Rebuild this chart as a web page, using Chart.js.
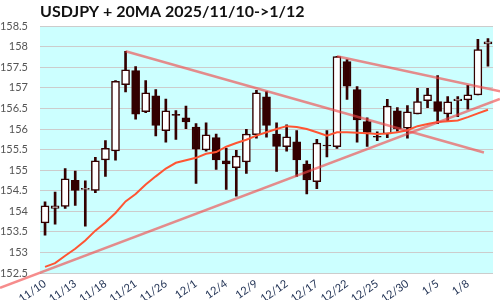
<!DOCTYPE html>
<html>
<head>
<meta charset="utf-8">
<script src="https://cdn.jsdelivr.net/npm/chart.js@4"></script>
<style>html, body { margin: 0; padding: 0; background: #fff; }</style>
</head>
<body>
<canvas id="canvas" width="500" height="300"></canvas>
<script>
const dates = ["11/10", "11/11", "11/12", "11/13", "11/14", "11/17", "11/18", "11/19", "11/20", "11/21",
    "11/24", "11/25", "11/26", "11/27", "11/28", "12/1", "12/2", "12/3", "12/4", "12/5",
    "12/8", "12/9", "12/10", "12/11", "12/12", "12/15", "12/16", "12/17", "12/18", "12/19",
    "12/22", "12/23", "12/24", "12/25", "12/26", "12/29", "12/30", "12/31", "1/2", "1/5",
    "1/6", "1/7", "1/8", "1/9", "1/12"];

const opens = [153.72, 154.07, 154.12, 154.75, 154.53, 154.51, 155.25, 155.47, 157.08, 157.42,
    156.42, 156.81, 155.96, 156.36, 156.27, 156.05, 155.49, 155.79, 155.23, 155.06,
    155.20, 155.86, 156.78, 155.88, 155.57, 155.69, 155.15, 154.72, 155.61, 155.57,
    157.64, 156.96, 156.18, 155.82, 155.88, 156.44, 156.02, 156.37, 156.69, 156.67,
    156.37, 156.69, 156.71, 156.83, 158.07];
const highs = [154.23, 154.47, 155.04, 154.98, 154.74, 155.31, 155.72, 157.18, 157.89, 157.52,
    157.18, 156.96, 156.73, 156.45, 156.56, 156.13, 156.15, 155.88, 155.53, 155.48,
    155.99, 156.94, 156.91, 156.15, 156.10, 155.96, 155.23, 155.75, 155.96, 157.77,
    157.69, 157.03, 156.27, 155.93, 156.72, 156.52, 156.57, 156.99, 156.99, 157.30,
    156.79, 156.79, 157.06, 158.18, 158.20];
const lows = [153.42, 153.69, 154.07, 154.14, 153.64, 154.45, 154.85, 155.24, 156.90, 156.24,
    156.40, 155.83, 155.68, 155.75, 156.01, 154.68, 155.46, 155.02, 154.53, 154.37,
    154.92, 155.78, 155.80, 154.97, 155.46, 154.85, 154.42, 154.55, 155.32, 155.53,
    156.72, 155.68, 155.58, 155.72, 155.79, 155.95, 155.78, 156.37, 156.52, 156.13,
    156.19, 156.30, 156.48, 156.83, 157.53];
const closes = [154.13, 154.13, 154.79, 154.51, 154.56, 155.23, 155.53, 157.16, 157.44, 156.36,
    156.88, 156.09, 156.44, 156.33, 156.17, 155.51, 155.86, 155.25, 155.15, 155.34,
    155.88, 156.88, 156.09, 155.58, 155.81, 155.25, 154.76, 155.66, 155.59, 157.76,
    157.04, 156.22, 155.92, 155.80, 156.56, 156.00, 156.42, 156.67, 156.83, 156.43,
    156.66, 156.73, 156.83, 157.93, 158.12];

const ma20 = [152.65, 152.74, 152.92, 153.09, 153.29, 153.53, 153.73, 153.96, 154.24, 154.42,
    154.65, 154.85, 155.04, 155.18, 155.24, 155.30, 155.40, 155.44, 155.57, 155.66,
    155.74, 155.84, 155.92, 156.00, 156.07, 156.05, 156.00, 155.92, 155.84, 155.92,
    155.92, 155.91, 155.90, 155.88, 155.89, 155.92, 155.97, 156.07, 156.12, 156.17,
    156.19, 156.21, 156.29, 156.38, 156.47];

// trend lines, x = candle index
const trendUpper = [{x: 8, y: 157.89}, {x: 43.6, y: 155.43}];
const trendRight = [{x: 29, y: 157.77}, {x: 45.2, y: 156.92}];
const trendLower = [{x: -4.47, y: 152.14}, {x: 45.18, y: 156.73}];

const yTicks = [152.5, 153, 153.5, 154, 154.5, 155, 155.5, 156, 156.5, 157, 157.5, 158, 158.5];

const DARK = "#330000";
const TREND = "rgba(240, 70, 70, 0.62)";

let bodies = opens.map((o, i) => [o, closes[i]]);
let wicks = lows.map((l, i) => [l, highs[i]]);
let bodyColors = opens.map((o, i) => closes[i] >= o ? "#ffffff" : DARK);

const areaBg = {
    id: 'areaBg',
    beforeDraw(chart) {
        const {ctx, chartArea: a} = chart;
        ctx.save();
        ctx.fillStyle = "#ccffff";
        ctx.fillRect(a.left, a.top, a.right - a.left, a.bottom - a.top);
        ctx.restore();
    }
};

function trendSet(points) {
    return {
        type: 'line',
        data: points,
        xAxisID: 'xl',
        borderColor: TREND,
        borderWidth: 2.5,
        pointRadius: 0,
        clip: false,
        order: 1
    };
}

let ctx = document.getElementById('canvas').getContext("2d");
let chart = new Chart(ctx, {
    type: 'bar',
    data: {
        labels: dates,
        datasets: [
            trendSet(trendUpper),
            trendSet(trendRight),
            trendSet(trendLower),
            {
                type: 'line',
                data: ma20,
                borderColor: "#ff5533",
                borderWidth: 2,
                pointRadius: 0,
                order: 2
            },
            {
                data: bodies,
                backgroundColor: bodyColors,
                borderColor: DARK,
                borderWidth: 1.5,
                borderSkipped: false,
                barThickness: 8,
                grouped: false,
                order: 3
            },
            {
                data: wicks,
                backgroundColor: DARK,
                barThickness: 2,
                grouped: false,
                order: 4
            }
        ]
    },
    options: {
        responsive: false,
        animation: false,
        layout: {padding: {right: 7}},
        plugins: {
            legend: {display: false},
            tooltip: {enabled: false},
            title: {
                display: true,
                text: "USDJPY + 20MA 2025/11/10->1/12",
                align: 'start',
                fullSize: false,
                color: "#111",
                font: {family: "Lato", size: 16, weight: 'bold'},
                padding: {top: 2, bottom: 5}
            }
        },
        scales: {
            x: {
                grid: {display: false, drawTicks: false},
                border: {display: false},
                afterFit: s => { s.height = 27; },
                ticks: {
                    autoSkip: false,
                    minRotation: 35,
                    maxRotation: 35,
                    padding: 4,
                    color: "#223355",
                    font: {family: "Lato", size: 11},
                    callback: (v, i) => i % 3 === 0 ? dates[i] : ''
                }
            },
            xl: {
                type: 'linear',
                display: false,
                offset: false,
                min: -0.5,
                max: 44.5
            },
            y: {
                min: 152.5,
                max: 158.5,
                grid: {color: "#cccccc", drawTicks: false},
                border: {display: false},
                afterFit: s => { s.width = 40; },
                afterBuildTicks: s => { s.ticks = yTicks.map(v => ({value: v})); },
                ticks: {
                    padding: 12,
                    color: "#555555",
                    font: {family: "Lato", size: 11},
                    callback: v => String(v)
                }
            }
        }
    },
    plugins: [areaBg]
});
</script>
</body>
</html>
